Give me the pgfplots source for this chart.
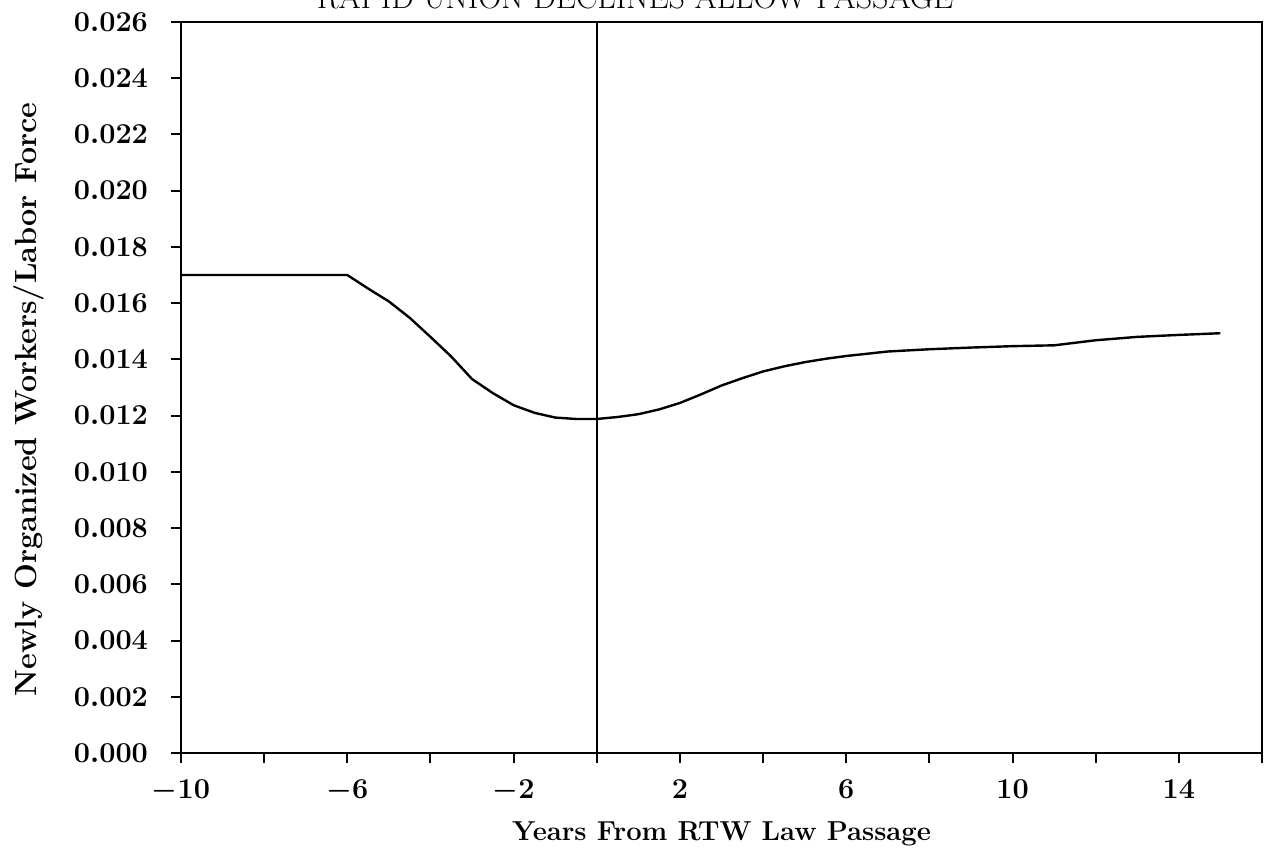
\documentclass[border=0pt]{standalone}
\usepackage{pgfplots}
\pgfplotsset{compat=1.18}
\begin{document}
\begin{tikzpicture}
\begin{axis}[
  scale only axis,
  width=540.5pt, height=365.5pt,
  xmin=-10, xmax=16, ymin=0, ymax=0.026,
  axis line style={line width=1pt},
  tick align=outside,
  major tick length=5pt,
  every tick/.style={black, line width=1pt},
  xtick pos=bottom, ytick pos=left,
  xtick={-10,-8,...,16},
  xticklabels={$-10$,,$-6$,,$-2$,,$2$,,$6$,,$10$,,$14$,},
  ytick={0,0.002,...,0.0261},
  scaled y ticks=false,
  yticklabel style={/pgf/number format/fixed, /pgf/number format/fixed zerofill, /pgf/number format/precision=3},
  tick label style={font=\fontsize{14}{16}\selectfont\boldmath},
  xticklabel style={yshift=-5pt},
  yticklabel style={xshift=-8pt},
  xlabel={\fontsize{13.7}{16}\selectfont\bfseries Years From RTW Law Passage},
  ylabel={\fontsize{15.3}{18}\selectfont\bfseries Newly Organized Workers/Labor Force},
  xlabel style={yshift=-3pt},
  ylabel style={yshift=8pt, xshift=-6pt},
]
\addplot[black, line width=1.2pt] coordinates {
(-10,0.0170) (-6,0.0170) (-5.5,0.01652) (-5,0.01606) (-4.5,0.01548) (-4,0.01480)
(-3.5,0.01410) (-3,0.01330) (-2.5,0.01280) (-2,0.01237) (-1.5,0.01210)
(-1,0.01193) (-0.5,0.01188) (0,0.01188) (0.5,0.01195) (1,0.01205) (1.5,0.01222)
(2,0.01245) (2.5,0.01275) (3,0.01307) (3.5,0.01333) (4,0.01357) (4.5,0.01375)
(5,0.01390) (5.5,0.01402) (6,0.01412) (7,0.01428) (8,0.01436) (9,0.01442) (10,0.01447)
(11,0.01450) (12,0.01468) (13,0.01480) (14,0.01487) (15,0.01493)
};
\addplot[black, line width=1pt] coordinates {(0,0) (0,0.026)};
\end{axis}
\node[anchor=base, font=\fontsize{16}{18}\selectfont] at (227pt,372pt) {RAPID UNION DECLINES ALLOW PASSAGE};
\pgfresetboundingbox
\useasboundingbox (-90.5pt,-51pt) rectangle (544.5pt,376.5pt);
\end{tikzpicture}
\end{document}
